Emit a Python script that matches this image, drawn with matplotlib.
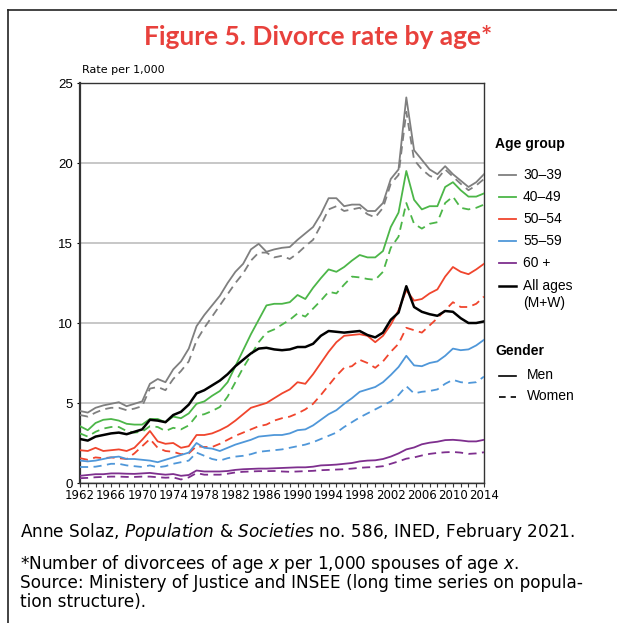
import numpy as np
import matplotlib
matplotlib.use("Agg")
import matplotlib.pyplot as plt
from matplotlib.lines import Line2D

years = list(range(1962, 2015))

# divorce rate per 1,000
m30_39 = [4.5, 4.4, 4.7, 4.85, 4.95, 5.05, 4.8, 4.95, 5.1, 6.2, 6.5, 6.3, 7.1, 7.6, 8.4, 9.8, 10.5, 11.1, 11.7, 12.5,
          13.2, 13.7, 14.6, 14.95, 14.45, 14.6, 14.7, 14.75, 15.2, 15.6, 16.0, 16.8, 17.8, 17.8, 17.3, 17.4, 17.4, 17.0,
          17.0, 17.5, 19.0, 19.6, 24.1, 20.8, 20.2, 19.6, 19.3, 19.8, 19.3, 18.9, 18.5, 18.8, 19.3]
w30_39 = [4.25, 4.15, 4.4, 4.6, 4.7, 4.7, 4.55, 4.65, 4.8, 5.9, 6.0, 5.8, 6.5, 7.0, 7.6, 8.9, 9.7, 10.4, 11.1, 11.8,
          12.5, 13.1, 13.9, 14.4, 14.4, 14.1, 14.2, 14.0, 14.35, 14.8, 15.2, 16.1, 17.1, 17.3, 17.0, 17.1, 17.2, 16.8,
          16.6, 17.2, 18.7, 19.25, 23.2, 20.2, 19.6, 19.2, 19.0, 19.6, 19.15, 18.7, 18.3, 18.6, 19.0]
m40_49 = [3.55, 3.3, 3.75, 3.95, 4.0, 3.9, 3.7, 3.65, 3.65, 4.0, 4.0, 3.8, 4.15, 4.05, 4.35, 4.95, 5.1, 5.45, 5.75, 6.3,
          7.3, 8.3, 9.3, 10.2, 11.1, 11.2, 11.2, 11.3, 11.75, 11.5, 12.2, 12.8, 13.35, 13.2, 13.5, 13.9, 14.25, 14.1,
          14.1, 14.5, 16.0, 16.9, 19.5, 17.7, 17.1, 17.3, 17.3, 18.5, 18.8, 18.3, 17.9, 17.9, 18.1]
w40_49 = [3.1, 2.9, 3.2, 3.4, 3.5, 3.5, 3.25, 3.15, 3.2, 3.55, 3.5, 3.25, 3.45, 3.35, 3.6, 4.2, 4.3, 4.5, 4.75, 5.4,
          6.3, 7.2, 8.0, 8.8, 9.4, 9.6, 9.9, 10.2, 10.6, 10.4, 10.9, 11.4, 11.95, 11.85, 12.4, 12.9, 12.85, 12.75,
          12.7, 13.2, 14.7, 15.4, 17.5, 16.2, 15.9, 16.2, 16.3, 17.5, 17.9, 17.2, 17.1, 17.2, 17.4]
m50_54 = [2.05, 2.0, 2.2, 2.0, 2.05, 2.1, 2.0, 2.2, 2.7, 3.25, 2.6, 2.45, 2.5, 2.2, 2.3, 3.0, 3.0, 3.1, 3.3, 3.55,
          3.9, 4.3, 4.7, 4.85, 5.0, 5.3, 5.6, 5.85, 6.3, 6.2, 6.8, 7.5, 8.2, 8.8, 9.2, 9.25, 9.3, 9.2, 8.8, 9.2,
          9.9, 10.8, 12.05, 11.4, 11.5, 11.85, 12.1, 12.9, 13.5, 13.2, 13.05, 13.35, 13.7]
w50_54 = [1.55, 1.45, 1.6, 1.55, 1.6, 1.55, 1.5, 1.85, 2.3, 2.75, 2.2, 2.0, 1.95, 1.8, 1.85, 2.3, 2.25, 2.25, 2.45, 2.7,
          2.95, 3.15, 3.35, 3.55, 3.65, 3.9, 4.05, 4.15, 4.35, 4.6, 4.95, 5.5, 6.1, 6.7, 7.2, 7.3, 7.7, 7.5, 7.2, 7.6,
          8.2, 8.7, 9.7, 9.55, 9.4, 9.85, 10.3, 10.8, 11.3, 11.0, 11.0, 11.2, 11.65]
m55_59 = [1.4, 1.35, 1.4, 1.5, 1.6, 1.65, 1.5, 1.5, 1.45, 1.4, 1.3, 1.45, 1.6, 1.75, 1.9, 2.5, 2.2, 2.15, 2.0, 2.2,
          2.4, 2.55, 2.7, 2.9, 2.95, 3.0, 3.0, 3.1, 3.3, 3.35, 3.6, 3.95, 4.3, 4.55, 4.95, 5.3, 5.7, 5.85, 6.0, 6.3,
          6.75, 7.25, 7.95, 7.35, 7.3, 7.5, 7.6, 7.95, 8.4, 8.3, 8.35, 8.6, 8.95]
w55_59 = [1.0, 1.0, 1.02, 1.1, 1.2, 1.2, 1.1, 1.05, 1.0, 1.1, 0.98, 1.05, 1.2, 1.3, 1.4, 1.9, 1.7, 1.5, 1.4, 1.55,
          1.65, 1.7, 1.8, 1.95, 2.0, 2.05, 2.1, 2.2, 2.3, 2.4, 2.55, 2.75, 2.95, 3.15, 3.5, 3.8, 4.1, 4.35, 4.6, 4.85,
          5.1, 5.5, 6.05, 5.6, 5.7, 5.75, 5.85, 6.2, 6.45, 6.3, 6.25, 6.3, 6.65]
m60 = [0.45, 0.5, 0.55, 0.55, 0.6, 0.6, 0.58, 0.57, 0.6, 0.63, 0.57, 0.52, 0.56, 0.45, 0.5, 0.78, 0.72, 0.72, 0.72, 0.75,
       0.82, 0.86, 0.88, 0.9, 0.9, 0.92, 0.94, 0.96, 0.98, 0.98, 1.02, 1.1, 1.12, 1.15, 1.2, 1.25, 1.35, 1.4, 1.42, 1.5,
       1.65, 1.85, 2.1, 2.22, 2.42, 2.52, 2.58, 2.68, 2.7, 2.66, 2.6, 2.6, 2.7]
w60 = [0.3, 0.32, 0.36, 0.38, 0.4, 0.4, 0.38, 0.38, 0.4, 0.4, 0.36, 0.33, 0.35, 0.22, 0.35, 0.62, 0.52, 0.52, 0.52, 0.58,
       0.66, 0.7, 0.72, 0.74, 0.74, 0.75, 0.72, 0.7, 0.72, 0.74, 0.76, 0.8, 0.82, 0.84, 0.86, 0.9, 0.95, 0.98, 1.0, 1.05,
       1.2, 1.35, 1.52, 1.6, 1.72, 1.82, 1.88, 1.92, 1.94, 1.9, 1.82, 1.85, 1.92]
all_ages = [2.75, 2.65, 2.9, 3.0, 3.1, 3.15, 3.05, 3.2, 3.35, 3.95, 3.9, 3.8, 4.25, 4.45, 4.9, 5.6, 5.8, 6.1, 6.4, 6.8,
            7.3, 7.7, 8.1, 8.4, 8.45, 8.35, 8.3, 8.35, 8.5, 8.5, 8.7, 9.2, 9.5, 9.45, 9.4, 9.45, 9.5, 9.25, 9.1, 9.4,
            10.2, 10.65, 12.3, 11.0, 10.7, 10.55, 10.45, 10.75, 10.7, 10.3, 10.0, 10.0, 10.1]

groups = ["30\u201339", "40\u201349", "50\u201354", "55\u201359", "60 +"]
colors = ["#7f7f7f", "#4cb648", "#f0452d", "#4f97d9", "#7e2f8e"]
men = [m30_39, m40_49, m50_54, m55_59, m60]
women = [w30_39, w40_49, w50_54, w55_59, w60]

W, H = 617, 623
fig = plt.figure(figsize=(W / 100, H / 100), dpi=100)
ax = fig.add_axes([80 / W, 1 - 483 / H, 404 / W, 400 / H])

dash = (0, (4.5, 3))
for c, m, w in zip(colors, men, women):
    ax.plot(years, w, color=c, lw=1.3, linestyle=dash, zorder=3)
    ax.plot(years, m, color=c, lw=1.3, zorder=4)
ax.plot(years, all_ages, color="black", lw=1.8, zorder=5)

ax.set_xlim(1962, 2014)
ax.set_ylim(0, 25)
ax.set_yticks([0, 5, 10, 15, 20, 25])
ax.set_xticks(years, minor=True)
ax.set_xticks(range(1962, 2015, 4))
ax.grid(axis="y", color="#bdbdbd", lw=1.2)
ax.set_axisbelow(True)
for s in ax.spines.values():
    s.set_color("#333333")
    s.set_linewidth(1.0)
ax.spines["left"].set_linewidth(1.6)
ax.tick_params(axis="x", which="both", direction="out", length=3, width=0.8, color="#333333")
ax.tick_params(axis="x", labelsize=8.5, pad=1.5)
ax.tick_params(axis="y", length=2, width=0.8, labelsize=9.5, pad=3)
for lab in ax.get_xticklabels():
    lab.set_family(["Liberation Sans Narrow", "DejaVu Sans"])
for lab in ax.get_yticklabels():
    lab.set_family(["Liberation Sans", "DejaVu Sans"])

fig.text(82 / W, 1 - 70 / H, "Rate per 1,000", fontsize=8, family=["Liberation Sans Narrow", "DejaVu Sans"],
         va="center", ha="left")

fig.text(318 / W, 1 - 37 / H, "Figure 5. Divorce rate by age*", color="#e8413c", fontsize=19,
         fontweight="bold", family=["Lato", "DejaVu Sans"], ha="center", va="center")

# legend, drawn by hand
lf = ["Liberation Sans", "DejaVu Sans"]
def key(y, color, lw=1.3, ls="-"):
    fig.add_artist(Line2D([499 / W, 516 / W], [1 - y / H, 1 - y / H], color=color, lw=lw, linestyle=ls,
                          transform=fig.transFigure))

fig.text(495 / W, 1 - 144 / H, "Age group", fontsize=10, fontweight="bold", family=lf, va="center")
ys = [175, 197, 219, 241, 263]
for y, g, c in zip(ys, groups, colors):
    key(y, c)
    fig.text(523 / W, 1 - y / H, g, fontsize=10, family=lf, va="center")
key(286, "black", lw=1.8)
fig.text(523 / W, 1 - 286 / H, "All ages", fontsize=10, family=lf, va="center")
fig.text(523 / W, 1 - 303 / H, "(M+W)", fontsize=10, family=lf, va="center")
fig.text(495 / W, 1 - 351 / H, "Gender", fontsize=10, fontweight="bold", family=lf, va="center")
key(376, "black", lw=1.2)
fig.text(527 / W, 1 - 375 / H, "Men", fontsize=10, family=lf, va="center")
key(397, "black", lw=1.2, ls=(0, (4, 3)))
fig.text(527 / W, 1 - 396 / H, "Women", fontsize=10, family=lf, va="center")

# source notes
nf = ["DejaVu Sans"]
fs = 12.2
fig.text(20 / W, 1 - 532 / H, "Anne Solaz, $\\it{Population\\ &\\ Societies}$ no. 586, INED, February 2021.",
         fontsize=fs, family=nf, va="center")
fig.text(20 / W, 1 - 564 / H, "*Number of divorcees of age $\\it{x}$ per 1,000 spouses of age $\\it{x}$.",
         fontsize=fs, family=nf, va="center")
fig.text(20 / W, 1 - 583 / H, "Source: Ministery of Justice and INSEE (long time series on popula-",
         fontsize=fs, family=nf, va="center")
fig.text(20 / W, 1 - 602 / H, "tion structure).", fontsize=fs, family=nf, va="center")

# outer frame
fig.add_artist(Line2D([8 / W, 8 / W], [0, 1 - 10 / H], color="#222222", lw=1.2, transform=fig.transFigure))
fig.add_artist(Line2D([8 / W, 1], [1 - 10 / H, 1 - 10 / H], color="#222222", lw=1.2, transform=fig.transFigure))

fig.savefig("out.png", dpi=100)
